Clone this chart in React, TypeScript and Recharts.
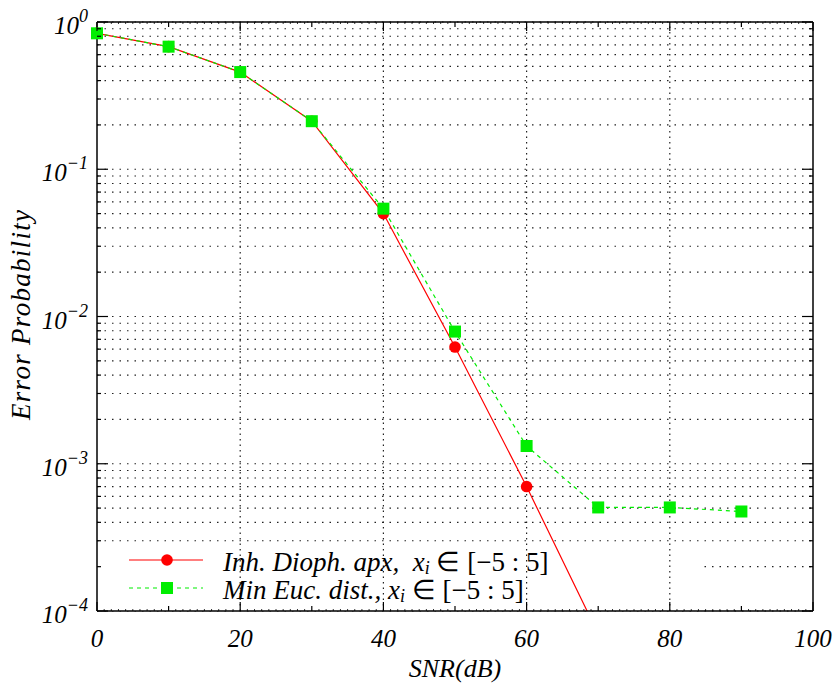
import React from "react";
import {
  LineChart,
  Line,
  XAxis,
  YAxis,
  CartesianGrid,
  ReferenceLine,
  ReferenceArea,
} from "recharts";

// SNR sweep (dB) and measured error probabilities
const snr = [0, 10, 20, 30, 40, 50, 60, 70, 80, 90];
const inhDioph = [0.838, 0.68, 0.457, 0.212, 0.05, 0.0062, 0.0007, 0.00007, null, null];
const minEuc = [0.838, 0.68, 0.457, 0.212, 0.054, 0.0079, 0.00132, 0.000505, 0.000505, 0.000474];

const xMajor = [0, 20, 40, 60, 80, 100];
const xGrid = [20, 40, 60, 80];
const decades = [-4, -3, -2, -1, 0];

const W = 838;
const H = 686;
const FONT = "'Liberation Serif', 'Times New Roman', serif";
const RED = "#ff0000";
const GREEN = "#00ee00";

const data = snr.map((s, i) => ({ snr: s, inh: inhDioph[i], euc: minEuc[i] }));

// every unit along x gets a tiny tick, tens get longer ones
const xTicks: number[] = [];
for (let i = 0; i <= 100; i++) xTicks.push(i);

// 1..9 x 10^k for each decade, plus the top at 10^0
const yTicks: number[] = [];
for (const e of decades.slice(0, -1)) {
  for (let k = 1; k <= 9; k++) yTicks.push(Number((k * Math.pow(10, e)).toPrecision(3)));
}
yTicks.push(1);

const isDecade = (v: number) => Math.abs(Math.log10(v) - Math.round(Math.log10(v))) < 1e-6;

const xTickLen = (v: number) => (v % 20 === 0 ? 9 : v % 10 === 0 ? 5 : 2);

function BottomTick(props: any) {
  const { x, y, payload } = props;
  const v = payload.value as number;
  const len = xTickLen(v);
  return (
    <g>
      <line x1={x} y1={y} x2={x} y2={y - len} stroke="#000" strokeWidth={v % 10 === 0 ? 1.2 : 0.8} />
      {xMajor.includes(v) && (
        <text x={x} y={y + 36} textAnchor="middle" fontFamily={FONT} fontStyle="italic" fontSize={25} fill="#000">
          {v}
        </text>
      )}
    </g>
  );
}

function TopTick(props: any) {
  const { x, y, payload } = props;
  const v = payload.value as number;
  return <line x1={x} y1={y} x2={x} y2={y + xTickLen(v)} stroke="#000" strokeWidth={v % 10 === 0 ? 1.2 : 0.8} />;
}

function LeftTick(props: any) {
  const { x, y, payload } = props;
  const v = payload.value as number;
  const major = isDecade(v);
  const e = Math.round(Math.log10(v));
  return (
    <g>
      <line x1={x} y1={y} x2={x + (major ? 11 : 4)} y2={y} stroke="#000" strokeWidth={1.2} />
      {major && (
        <text x={x - 9} y={y + 12} textAnchor="end" fontFamily={FONT} fontStyle="italic" fontSize={25} fill="#000">
          10
          <tspan dy={-12} fontSize={18}>
            {e === 0 ? "0" : `\u2212${-e}`}
          </tspan>
        </text>
      )}
    </g>
  );
}

function RightTick(props: any) {
  const { x, y, payload } = props;
  const major = isDecade(payload.value);
  return <line x1={x} y1={y} x2={x - (major ? 11 : 4)} y2={y} stroke="#000" strokeWidth={1.2} />;
}

function Square(props: any) {
  const { cx, cy, key } = props;
  if (cx == null || cy == null) return <g key={key} />;
  return <rect key={key} x={cx - 6} y={cy - 6} width={12} height={12} fill={GREEN} />;
}

function Circle(props: any) {
  const { cx, cy, key } = props;
  if (cx == null || cy == null) return <g key={key} />;
  return <circle key={key} cx={cx} cy={cy} r={5.8} fill={RED} />;
}

const legendText: React.CSSProperties = {
  fontFamily: FONT,
  fontSize: 27,
  color: "#000",
  whiteSpace: "pre",
  lineHeight: "28px",
};

function LegendRow({ label, dashed, marker }: { label: string; dashed: boolean; marker: "circle" | "square" }) {
  const color = marker === "circle" ? RED : GREEN;
  return (
    <div style={{ display: "flex", alignItems: "center", height: 28 }}>
      <svg width={94} height={20} style={{ marginLeft: 32 }}>
        <line x1={0} y1={10} x2={74} y2={10} stroke={color} strokeWidth={1.2} strokeDasharray={dashed ? "4 4" : undefined} />
        {marker === "circle" ? (
          <circle cx={38} cy={10} r={5.8} fill={color} />
        ) : (
          <rect x={32} y={4} width={12} height={12} fill={color} />
        )}
      </svg>
      <span style={{ ...legendText, position: "relative", top: 2 }}>
        <i>{label}</i>
        <i>x</i>
        <sub style={{ fontSize: 18, fontStyle: "italic", verticalAlign: "-3px", lineHeight: "10px" }}>i</sub>
        {" \u2208 [\u22125 : 5]"}
      </span>
    </div>
  );
}

export default function App() {
  return (
    <div style={{ position: "relative", width: W, height: H, background: "#fff" }}>
      <style>{"body{margin:0}"}</style>
      <LineChart width={W} height={H} data={data} margin={{ top: 0, right: 0, bottom: 0, left: 0 }}>
        <CartesianGrid vertical={false} stroke="#222" strokeDasharray="1.5 6" strokeWidth={1.2} />
        {xGrid.map((v) => (
          <ReferenceLine key={v} x={v} stroke="#222" strokeDasharray="1.5 4" strokeWidth={1.2} />
        ))}
        {/* opaque key background sits over the grid but under the curves */}
        <ReferenceArea x1={0} x2={84.2} y1={0.0001} y2={0.00028} fill="#fff" fillOpacity={1} stroke="none" />
        <XAxis
          dataKey="snr"
          type="number"
          domain={[0, 100]}
          ticks={xTicks}
          interval={0}
          height={75}
          tickSize={0}
          tickMargin={0}
          tickLine={false}
          axisLine={{ stroke: "#000", strokeWidth: 1.5 }}
          tick={<BottomTick />}
          label={{
            content: () => (
              <text x={455} y={677} textAnchor="middle" fontFamily={FONT} fontStyle="italic" fontSize={26} fill="#000">
                SNR(dB)
              </text>
            ),
          }}
        />
        <XAxis
          xAxisId="top"
          orientation="top"
          dataKey="snr"
          type="number"
          domain={[0, 100]}
          ticks={xTicks}
          interval={0}
          height={22}
          tickSize={0}
          tickMargin={0}
          tickLine={false}
          axisLine={{ stroke: "#000", strokeWidth: 1.5 }}
          tick={<TopTick />}
        />
        <YAxis
          scale="log"
          type="number"
          domain={[0.0001, 1]}
          allowDataOverflow
          ticks={yTicks}
          interval={0}
          width={97}
          tickSize={0}
          tickMargin={0}
          tickLine={false}
          axisLine={{ stroke: "#000", strokeWidth: 1.5 }}
          tick={<LeftTick />}
          label={{
            content: () => (
              <text
                x={0}
                y={0}
                transform="translate(30 315) rotate(-90)"
                textAnchor="middle"
                fontFamily={FONT}
                fontStyle="italic"
                fontSize={27}
                textLength={210}
                lengthAdjust="spacing"
                fill="#000"
              >
                Error Probability
              </text>
            ),
          }}
        />
        <YAxis
          yAxisId="r"
          orientation="right"
          scale="log"
          type="number"
          domain={[0.0001, 1]}
          allowDataOverflow
          ticks={yTicks}
          interval={0}
          width={25}
          tickSize={0}
          tickMargin={0}
          tickLine={false}
          axisLine={{ stroke: "#000", strokeWidth: 1.5 }}
          tick={<RightTick />}
        />
        <Line
          dataKey="inh"
          stroke={RED}
          strokeWidth={1.2}
          dot={Circle}
          activeDot={false}
          connectNulls={false}
          isAnimationActive={false}
        />
        <Line
          dataKey="euc"
          stroke={GREEN}
          strokeWidth={1.2}
          strokeDasharray="4 4"
          dot={Square}
          activeDot={false}
          isAnimationActive={false}
        />
      </LineChart>
      <div style={{ position: "absolute", left: 97, top: 546, width: 600 }}>
        <LegendRow label={"Inh. Dioph. apx,  "} dashed={false} marker="circle" />
        <LegendRow label={"Min Euc. dist., "} dashed={true} marker="square" />
      </div>
    </div>
  );
}
